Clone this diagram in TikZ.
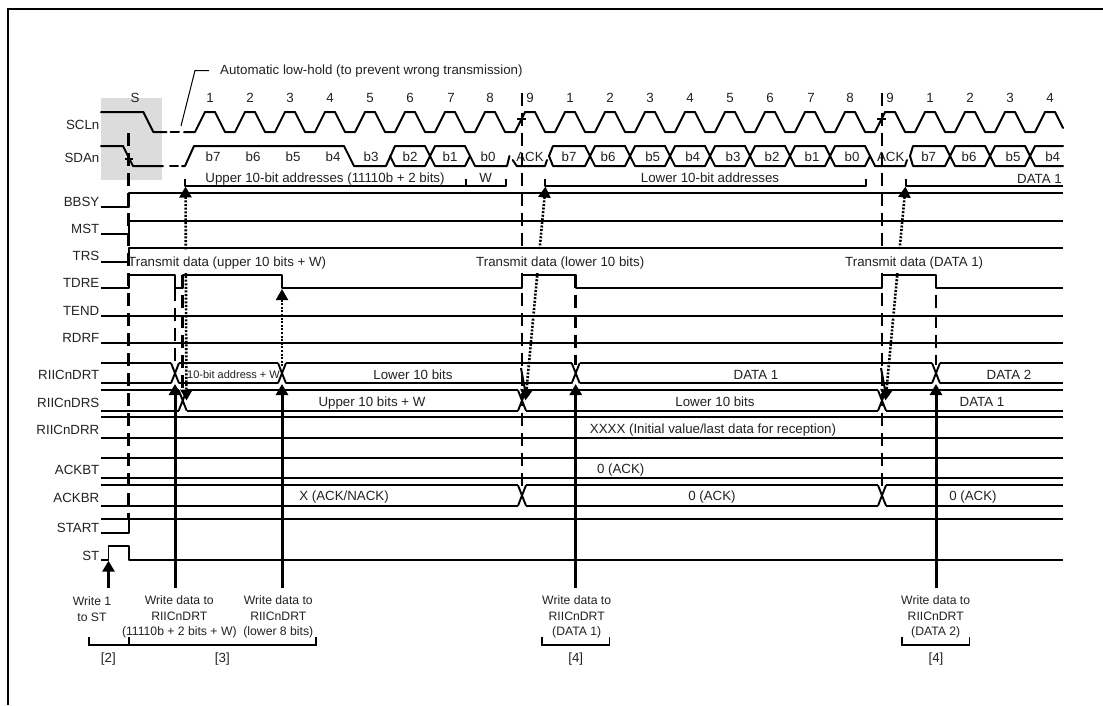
\documentclass[tikz,border=0pt]{standalone}
\usepackage{fontspec}
\setmainfont{Liberation Sans}
\usetikzlibrary{arrows.meta}
\definecolor{ink}{HTML}{222222}
\definecolor{boxgray}{HTML}{DCDCDC}
\tikzset{
  bighead/.tip={Triangle[length=11pt,width=12pt]},
  wave/.style={line width=2pt,line join=round,line cap=round,black},
  tline/.style={line width=1.9pt,line join=round,black},
  frameline/.style={line width=2pt,black},
  guide/.style={line width=2.6pt,black,dash pattern=on 13pt off 7pt},
  solidarrow/.style={line width=3pt,black,-bighead},
  dotarrow/.style={line width=2.6pt,black,dash pattern=on 2pt off 1.6pt,bighead-bighead},
  dotup/.style={line width=2pt,black,dash pattern=on 2pt off 1.6pt,bighead-},
  bracket/.style={line width=1.6pt,black},
  leader/.style={line width=1pt,black},
  txt/.style={inner sep=0pt,text=ink,yshift=-4.7pt,font=\fontsize{13.3}{15}\selectfont},
  ctext/.style={txt,anchor=base},
  ltext/.style={txt,anchor=base west},
  rtext/.style={txt,anchor=base east},
  wtext/.style={txt,anchor=base,font=\fontsize{12.2}{14}\selectfont},
}
\begin{document}
\begin{tikzpicture}[x=1pt,y=-1pt]
\useasboundingbox (0,0) rectangle (1103,705);
\fill[white] (0,0) rectangle (1103,705);
% frame
\draw[frameline] (8,705)--(8,9)--(1103,9);
% gray start box
\fill[boxgray] (101,98) rectangle (162,180);

% signal names
\foreach \n/\y in {SCLn/125,SDAn/158,BBSY/202,MST/229,TRS/255.7,TDRE/283,TEND/310.7,RDRF/337.7,RIICnDRT/375,RIICnDRS/402.3,RIICnDRR/429.3,ACKBT/470,ACKBR/497.3,START/528,ST/555.3}
  \node[rtext] (name\n) at (99.5,\y) {\n};

% annotation
\coordinate (leadA) at (181,126);
\coordinate (leadB) at (195,70.5);
\node[ltext] (hold) at (220,70) {Automatic low-hold (to prevent wrong transmission)};
\coordinate (leadC) at (209,70.5);
\draw[leader] (leadA)--(leadB)--(leadC);

% clock numbers
\node[ctext] (lblS) at (135,98) {S};
\foreach \t/\x in {1/210,2/250,3/290,4/330,5/370,6/410,7/451,8/490,9/530,1/570,2/610,3/650,4/690,5/730,6/770,7/811,8/850,9/890,1/930,2/970,3/1010,4/1050}
  \node[ctext] (clk\x) at (\x,98) {\t};

% SCL
\draw[wave] (101,112)--(143.3,112)--(153.3,132)--(166.5,132);
\draw[wave] (170.5,132)--(179,132);
\draw[wave] (184,132)--(195,132)
  \foreach \k in {0,...,20}{ --++(10,-20)--++(10,0)--++(10,20)--++(10,0)}
  --++(10,-20)--++(10,0)--++(8,16);
\draw[line width=1.2pt] (517,119)--(526,119) (877,119)--(886,119) (125,159)--(133,159);

% SDA
\draw[wave] (101,146)--(123,146)--(133,166)--(163,166);
\draw[wave] (170,166)--(178,166);
\draw[wave] (182,166)--(185,166)--(194,146)--(344,146)--(354,166)--(386,166)--(395,146)--(425,146)--(435,166)--(465,166)--(470,156);
\draw[wave] (390,156)--(395,166)--(425,166)--(435,146)--(465,146)--(475,166)--(507,166)--(509.5,156);
\draw[wave] (512.7,160)--(516.7,166)--(545,166)--(547,160);
\draw[wave] (585,146)--(553,146)--(549,156)--(553,166)--(585,166);
\foreach \c in {590,630,670,710,750,790,830}{
  \draw[wave] (\c-5,146)--(\c+5,166)--(\c+35,166);
  \draw[wave] (\c-5,166)--(\c+5,146)--(\c+35,146);
}
\draw[wave] (865,166)--(870,156);
\draw[wave] (865,146)--(875,166)--(905,166)--(907,160);
\draw[wave] (945,146)--(913,146)--(910,156)--(913,166)--(945,166);
\foreach \c in {950,990}{
  \draw[wave] (\c-5,146)--(\c+5,166)--(\c+35,166);
  \draw[wave] (\c-5,166)--(\c+5,146)--(\c+35,146);
}
\draw[wave] (1025,146)--(1035,166)--(1063,166);
\draw[wave] (1025,166)--(1035,146)--(1063,146);
\foreach \t/\x in {b7/213,b6/253,b5/293,b4/333,b3/371,b2/410,b1/450,b0/488,ACK/530,b7/569,b6/608,b5/652.7,b4/692.7,b3/733,b2/772,b1/812,b0/852,ACK/890.7,b7/928.7,b6/969,b5/1013,b4/1052.7}
  \node[ctext] (sda\x) at (\x,157) {\t};

% address brackets
\draw[tline] (185,179)--(185,186)--(505.7,186)--(505.7,179);
\draw[tline] (465.7,179)--(465.7,186);
\draw[tline] (545.3,179)--(545.3,186)--(866,186)--(866,179);
\draw[tline] (905.7,179)--(905.7,186)--(1063,186);
\node[ctext] (upperaddr) at (325,178) {Upper 10-bit addresses (11110b + 2 bits)};
\node[ctext] (wbit) at (485.6,178) {W};
\node[ctext] (loweraddr) at (710,178) {Lower 10-bit addresses};
\node[rtext] (data1a) at (1062,179) {DATA 1};

% single-level signals
\draw[tline] (101,206.7)--(128.7,206.7)--(128.7,193.3)--(1063,193.3);
\draw[tline] (101,234)--(128.7,234)--(128.7,220.7)--(1063,220.7);
\draw[tline] (101,261.7)--(128.7,261.7)--(128.7,248)--(1063,248);
\draw[tline] (101,288.3)--(128.7,288.3)--(128.7,274.7)--(175,274.7)--(175,288.3)--(182.7,288.3)--(182.7,274.7)--(282,274.7)--(282,288.3)--(522,288.3)--(522,274.7)--(575.7,274.7)--(575.7,288.3)--(882,288.3)--(882,274.7)--(936,274.7)--(936,288.3)--(1063,288.3);
\draw[tline] (101,315.7)--(1063,315.7);
\draw[tline] (101,342.7)--(1063,342.7);
\draw[tline] (101,519.3)--(1063,519.3) (128.7,519.3)--(128.7,532.7)--(101,532.7);
\draw[tline] (101,560)--(108.5,560)--(108.5,546.3)--(128.7,546.3)--(128.7,560)--(1063,560);

% buses
\foreach \a/\b in {101/171,179/278,286/571.7,579.7/932,940/1063}{
  \draw[tline] (\a,363)--(\b,363) (\a,383.3)--(\b,383.3);
}
\foreach \c in {175,282,575.7,936}{
  \draw[tline] (\c-4,363)--(\c+4,383.3) (\c-4,383.3)--(\c+4,363);
}
\foreach \a/\b in {101/178.7,186.7/518,526/878,886/1063}{
  \draw[tline] (\a,390.3)--(\b,390.3) (\a,410.7)--(\b,410.7);
}
\foreach \c in {182.7,522,882}{
  \draw[tline] (\c-4,390.3)--(\c+4,410.7) (\c-4,410.7)--(\c+4,390.3);
}
\draw[tline] (101,417.3)--(1063,417.3) (101,437.7)--(1063,437.7);
\draw[tline] (101,458)--(1063,458) (101,478.3)--(1063,478.3);
\foreach \a/\b in {101/518,526/878,886/1063}{
  \draw[tline] (\a,485.3)--(\b,485.3) (\a,505.7)--(\b,505.7);
}
\foreach \c in {522,882}{
  \draw[tline] (\c-4,485.3)--(\c+4,505.7) (\c-4,505.7)--(\c+4,485.3);
}

% dashed guides
\draw[guide] (522,92.7)--(522,488);
\draw[guide] (882,92.7)--(882,488);
\draw[guide] (175,288)--(175,363);
\draw[guide] (182.7,275)--(182.7,392);
\draw[guide] (575.7,275)--(575.7,365);
\draw[guide] (936,275)--(936,365);
\draw[line width=2pt] (521,368)--(525,390) (881,368)--(885,390);

% dotted arrows
\coordinate (d1a) at (185.5,186.5); \coordinate (d1b) at (186.5,400.5);
\coordinate (d2a) at (545.5,186.5); \coordinate (d2b) at (525.5,400.5);
\coordinate (d3a) at (905.5,186.5); \coordinate (d3b) at (885.5,400.5);
\draw[dotarrow] (d1a)--(d1b);
\draw[dotarrow] (d2a)--(d2b);
\draw[dotarrow] (d3a)--(d3b);
\coordinate (d4a) at (282,289); \coordinate (d4b) at (282,366);
\draw[dotup] (d4a)--(d4b);

% solid write arrows
\foreach \nm/\x/\y in {wa/108.5/560.7,wb/175/384,wc/282/384,wd/575.7/384,we/936/384}{
  \coordinate (\nm s) at (\x,587.7);
  \coordinate (\nm t) at (\x,\y);
  \draw[solidarrow] (\nm s)--(\nm t);
}

% clear the strip behind the transmit-data labels
\fill[white] (131,249.5) rectangle (327,273);
\fill[white] (474,249.5) rectangle (647,273);
\fill[white] (843,249.5) rectangle (988,273);
\draw[guide] (128.7,133)--(128.7,520);

% texts on the traces
\node[ltext] (tx1) at (128,261.7) {Transmit data (upper 10 bits + W)};
\node[ltext] (tx2) at (476,261.7) {Transmit data (lower 10 bits)};
\node[ltext] (tx3) at (845,261.7) {Transmit data (DATA 1)};
\node[ctext,font=\fontsize{11}{13}\selectfont] (bit10) at (233.5,374) {10-bit address + W};
\node[ctext] (drt1) at (413,375) {Lower 10 bits};
\node[ctext] (drt2) at (756,375) {DATA 1};
\node[ctext] (drt3) at (1009,375) {DATA 2};
\node[ctext] (drs1) at (372,402) {Upper 10 bits + W};
\node[ctext] (drs2) at (715,402) {Lower 10 bits};
\node[ctext] (drs3) at (982,402) {DATA 1};
\node[ctext] (drr1) at (713,429) {XXXX (Initial value/last data for reception)};
\node[ctext] (bt1) at (620.7,469) {0 (ACK)};
\node[ctext] (br1) at (344,495.7) {X (ACK/NACK)};
\node[ctext] (br2) at (712,495.7) {0 (ACK)};
\node[ctext] (br3) at (973,495.7) {0 (ACK)};

% bottom captions
\node[wtext] (c1a) at (92,600.7) {Write 1};
\node[wtext] (c1b) at (92,616.7) {to ST};
\node[wtext] (c2a) at (179.3,600) {Write data to};
\node[wtext] (c2b) at (179.3,615.7) {RIICnDRT};
\node[wtext] (c2c) at (179.3,631) {(11110b + 2 bits + W)};
\node[wtext] (c3a) at (278.3,600) {Write data to};
\node[wtext] (c3b) at (278.3,615.7) {RIICnDRT};
\node[wtext] (c3c) at (278.3,631) {(lower 8 bits)};
\node[wtext] (c4a) at (576.7,600) {Write data to};
\node[wtext] (c4b) at (576.7,615.7) {RIICnDRT};
\node[wtext] (c4c) at (576.7,631) {(DATA 1)};
\node[wtext] (c5a) at (935.7,600) {Write data to};
\node[wtext] (c5b) at (935.7,615.7) {RIICnDRT};
\node[wtext] (c5c) at (935.7,631) {(DATA 2)};

% brackets
\draw[bracket] (88.7,637.3)--(88.7,645)--(316,645)--(316,637.3) (128.7,637.3)--(128.7,645);
\draw[bracket] (541.7,637.3)--(541.7,645)--(609.3,645)--(609.3,637.3);
\draw[bracket] (902,637.3)--(902,645)--(969.3,645)--(969.3,637.3);
\node[ctext] (b2) at (108.3,657.3) {[2]};
\node[ctext] (b3) at (222.3,657.3) {[3]};
\node[ctext] (b4) at (575.7,657.3) {[4]};
\node[ctext] (b5) at (936,657.3) {[4]};
\end{tikzpicture}
\end{document}
